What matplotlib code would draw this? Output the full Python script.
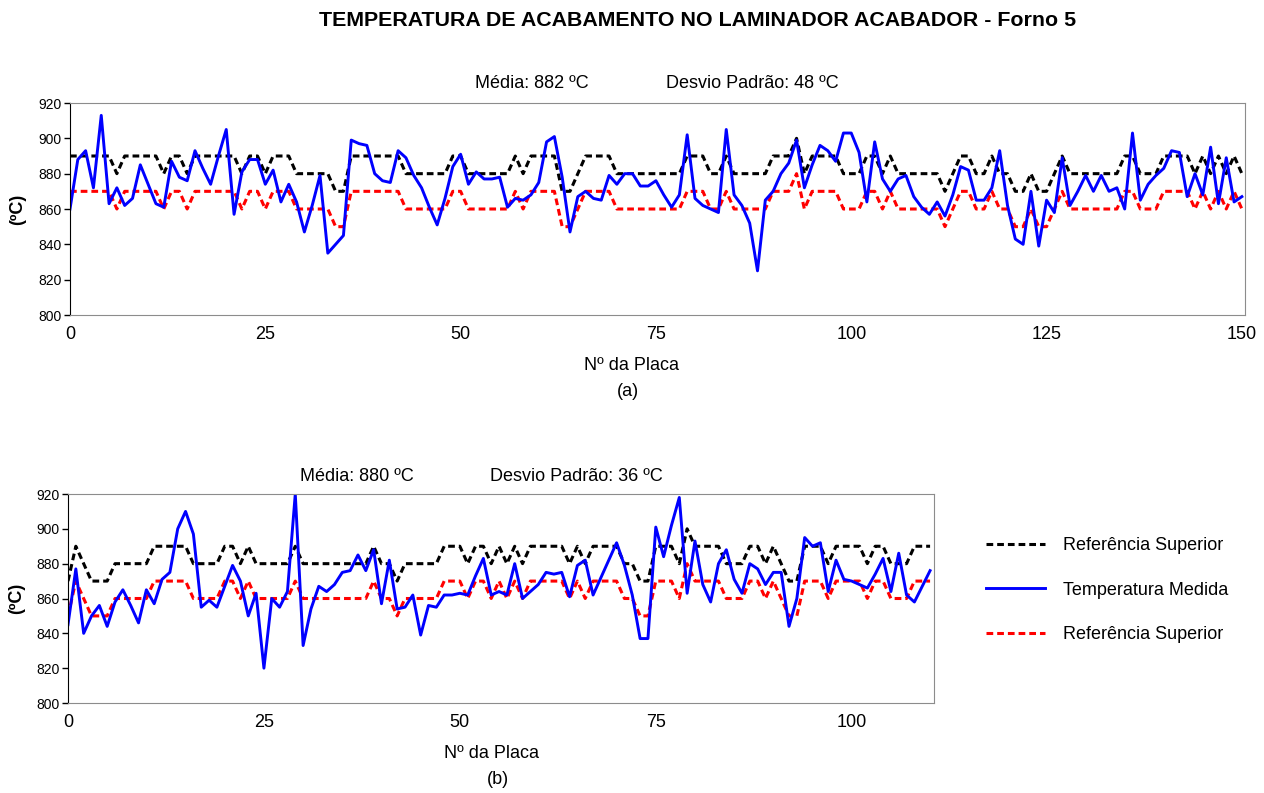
import numpy as np
import matplotlib
matplotlib.use("Agg")
import matplotlib.pyplot as plt

plt.rcParams['font.family'] = ['Liberation Sans', 'DejaVu Sans']

W, H = 1264, 793

# ---- data ----
# (a) Forno 5, plates 0..150
top_temp = [
    860, 888, 893, 872, 913, 863, 872, 862, 866, 885,
    874, 863, 861, 887, 878, 876, 893, 883, 874, 890,
    905, 857, 881, 888, 888, 874, 882, 864, 874, 864,
    847, 862, 879, 835, 840, 845, 899, 897, 896, 880,
    876, 875, 893, 889, 879, 872, 861, 851, 866, 884,
    891, 874, 881, 877, 877, 878, 861, 866, 865, 868,
    875, 898, 901, 878, 847, 867, 870, 866, 865, 879,
    874, 880, 880, 873, 873, 876, 868, 861, 868, 902,
    866, 862, 860, 858, 905, 868, 862, 852, 825, 865,
    870, 880, 886, 899, 872, 885, 896, 893, 887, 903,
    903, 892, 864, 898, 877, 870, 877, 879, 867, 861,
    857, 864, 856, 868, 884, 882, 865, 865, 872, 893,
    862, 843, 840, 870, 839, 865, 858, 889, 862, 870,
    879, 870, 879, 870, 872, 860, 903, 865, 874, 879,
    883, 893, 892, 867, 880, 868, 895, 863, 889, 864,
    867]
top_ref_sup = [
    890, 890, 890, 890, 890, 890, 880, 890, 890, 890,
    890, 890, 880, 890, 890, 880, 890, 890, 890, 890,
    890, 890, 880, 890, 890, 880, 890, 890, 890, 880,
    880, 880, 880, 880, 870, 870, 890, 890, 890, 890,
    890, 890, 890, 880, 880, 880, 880, 880, 880, 890,
    890, 880, 880, 880, 880, 880, 880, 890, 880, 890,
    890, 890, 890, 870, 870, 880, 890, 890, 890, 890,
    880, 880, 880, 880, 880, 880, 880, 880, 880, 890,
    890, 890, 880, 880, 890, 880, 880, 880, 880, 880,
    890, 890, 890, 900, 880, 890, 890, 890, 890, 880,
    880, 880, 890, 890, 880, 890, 880, 880, 880, 880,
    880, 880, 870, 880, 890, 890, 880, 880, 890, 880,
    880, 870, 870, 880, 870, 870, 880, 890, 880, 880,
    880, 880, 880, 880, 880, 890, 890, 880, 880, 880,
    890, 890, 890, 890, 880, 890, 880, 890, 880, 890,
    880]
top_ref_inf = [
    870, 870, 870, 870, 870, 870, 860, 870, 870, 870,
    870, 870, 860, 870, 870, 860, 870, 870, 870, 870,
    870, 870, 860, 870, 870, 860, 870, 870, 870, 860,
    860, 860, 860, 860, 850, 850, 870, 870, 870, 870,
    870, 870, 870, 860, 860, 860, 860, 860, 860, 870,
    870, 860, 860, 860, 860, 860, 860, 870, 860, 870,
    870, 870, 870, 850, 850, 860, 870, 870, 870, 870,
    860, 860, 860, 860, 860, 860, 860, 860, 860, 870,
    870, 870, 860, 860, 870, 860, 860, 860, 860, 860,
    870, 870, 870, 880, 860, 870, 870, 870, 870, 860,
    860, 860, 870, 870, 860, 870, 860, 860, 860, 860,
    860, 860, 850, 860, 870, 870, 860, 860, 870, 860,
    860, 850, 850, 860, 850, 850, 860, 870, 860, 860,
    860, 860, 860, 860, 860, 870, 870, 860, 860, 860,
    870, 870, 870, 870, 860, 870, 860, 870, 860, 870,
    860]

# (b) plates 0..110
bot_temp = [
    845, 877, 840, 850, 856, 844, 858, 865, 856, 846,
    865, 857, 871, 875, 900, 910, 897, 855, 859, 855,
    867, 879, 870, 850, 863, 820, 860, 855, 864, 920,
    833, 854, 867, 864, 868, 875, 876, 885, 876, 888,
    857, 882, 854, 855, 862, 839, 856, 855, 862, 862,
    863, 862, 873, 883, 862, 864, 862, 880, 860, 864,
    868, 875, 874, 875, 861, 879, 882, 862, 872, 882,
    892, 879, 862, 837, 837, 901, 884, 902, 918, 863,
    893, 868, 858, 880, 888, 871, 863, 880, 877, 868,
    875, 875, 844, 860, 895, 890, 892, 864, 882, 871,
    870, 868, 866, 874, 883, 864, 886, 862, 858, 867,
    876]
bot_ref_sup = [
    870, 890, 880, 870, 870, 870, 880, 880, 880, 880,
    880, 890, 890, 890, 890, 890, 880, 880, 880, 880,
    890, 890, 880, 890, 880, 880, 880, 880, 880, 890,
    880, 880, 880, 880, 880, 880, 880, 880, 880, 890,
    880, 880, 870, 880, 880, 880, 880, 880, 890, 890,
    890, 880, 890, 890, 880, 890, 880, 890, 880, 890,
    890, 890, 890, 890, 880, 890, 880, 890, 890, 890,
    890, 880, 880, 870, 870, 890, 890, 890, 880, 900,
    890, 890, 890, 890, 880, 880, 880, 890, 890, 880,
    890, 880, 870, 870, 890, 890, 890, 880, 890, 890,
    890, 890, 880, 890, 890, 880, 880, 880, 890, 890,
    890]
bot_ref_inf = [
    850, 870, 860, 850, 850, 850, 860, 860, 860, 860,
    860, 870, 870, 870, 870, 870, 860, 860, 860, 860,
    870, 870, 860, 870, 860, 860, 860, 860, 860, 870,
    860, 860, 860, 860, 860, 860, 860, 860, 860, 870,
    860, 860, 850, 860, 860, 860, 860, 860, 870, 870,
    870, 860, 870, 870, 860, 870, 860, 870, 860, 870,
    870, 870, 870, 870, 860, 870, 860, 870, 870, 870,
    870, 860, 860, 850, 850, 870, 870, 870, 860, 880,
    870, 870, 870, 870, 860, 860, 860, 870, 870, 860,
    870, 860, 850, 850, 870, 870, 870, 860, 870, 870,
    870, 870, 860, 870, 870, 860, 860, 860, 870, 870,
    870]

y_ticks = [800, 820, 840, 860, 880, 900, 920]
top_xticks = [0, 25, 50, 75, 100, 125, 150]
bot_xticks = [0, 25, 50, 75, 100]

top_stats = ["Média: 882 ºC", "Desvio Padrão: 48 ºC"]
bot_stats = ["Média: 880 ºC", "Desvio Padrão: 36 ºC"]
legend_labels = ["Referência Superior", "Temperatura Medida", "Referência Superior"]


def fx(x):
    return x / W


def fy(y):
    return 1 - y / H


def style_axes(ax, xticks, xmax):
    ax.set_xlim(0, xmax)
    ax.set_ylim(800, 920)
    ax.set_yticks(y_ticks)
    ax.set_xticks(xticks)
    ax.tick_params(axis='y', length=4, width=1, labelsize=10, pad=2)
    ax.tick_params(axis='x', length=0, labelsize=13, pad=8)
    for side in ['top', 'right', 'bottom']:
        ax.spines[side].set_color('#8c8c8c')
    ax.spines['left'].set_color('black')
    ax.set_ylabel("(ºC)", fontsize=13, fontweight='bold')


def draw_series(ax, temp, ref_sup, ref_inf):
    x = np.arange(len(temp))
    l_sup, = ax.plot(x, ref_sup, color='black', lw=2.2, dashes=(2.2, 1.3))
    l_inf, = ax.plot(x, ref_inf, color='#ff0000', lw=2.2, dashes=(2.2, 1.3))
    l_temp, = ax.plot(x, temp, color='#0000ff', lw=2.1)
    return l_sup, l_temp, l_inf


fig = plt.figure(figsize=(W / 100, H / 100), dpi=100)

# top chart (a)
ax1 = fig.add_axes([fx(70), fy(315), fx(1245) - fx(70), fy(103) - fy(315)])
draw_series(ax1, top_temp, top_ref_sup, top_ref_inf)
style_axes(ax1, top_xticks, 150.4)
ax1.yaxis.set_label_coords(-0.037, 0.5)

# bottom chart (b)
ax2 = fig.add_axes([fx(68), fy(703), fx(934) - fx(68), fy(494) - fy(703)])
handles = draw_series(ax2, bot_temp, bot_ref_sup, bot_ref_inf)
style_axes(ax2, bot_xticks, 110.5)
ax2.yaxis.set_label_coords(-0.049, 0.5)

fig.text(fx(698), fy(20), "TEMPERATURA DE ACABAMENTO NO LAMINADOR ACABADOR - Forno 5",
         ha='center', va='center', fontsize=15.4, fontweight='bold')

fig.text(fx(475), fy(84), top_stats[0], ha='left', va='center', fontsize=13)
fig.text(fx(666), fy(84), top_stats[1], ha='left', va='center', fontsize=13)
fig.text(fx(300), fy(476), bot_stats[0], ha='left', va='center', fontsize=13)
fig.text(fx(490), fy(476), bot_stats[1], ha='left', va='center', fontsize=13)

fig.text(fx(632), fy(366), "Nº da Placa", ha='center', va='center', fontsize=13)
fig.text(fx(628), fy(391), "(a)", ha='center', va='center', fontsize=13)
fig.text(fx(492), fy(753), "Nº da Placa", ha='center', va='center', fontsize=13)
fig.text(fx(498), fy(780), "(b)", ha='center', va='center', fontsize=13)

fig.legend(handles, legend_labels, loc='upper left',
           bbox_to_anchor=(fx(970), fy(521)), frameon=False, fontsize=13,
           handlelength=3.25, handletextpad=1.0, labelspacing=1.52,
           borderpad=0.4)

fig.savefig("out.png", dpi=100)
